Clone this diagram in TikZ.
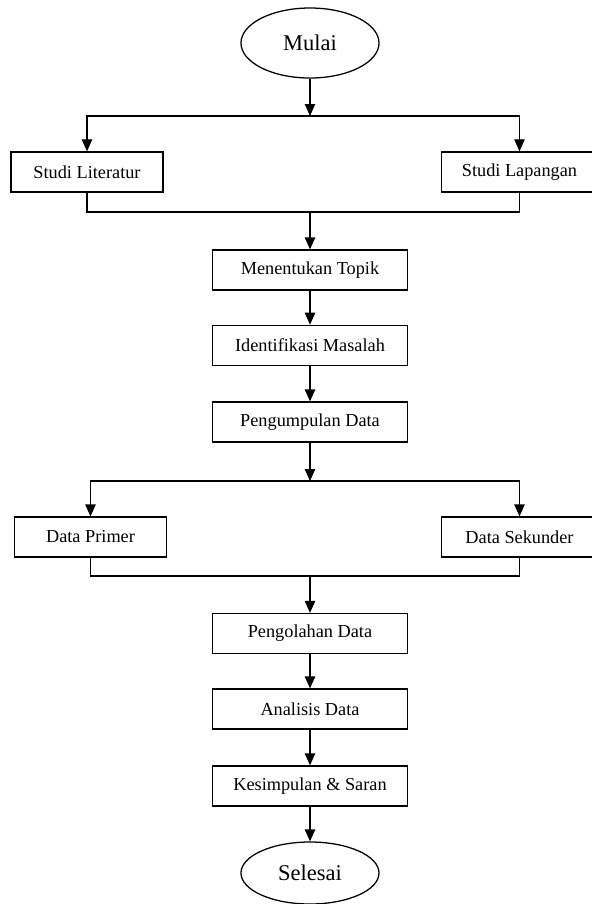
\documentclass[tikz,border=0pt]{standalone}
\usepackage{fontspec}
\setmainfont{Liberation Serif}
\usetikzlibrary{arrows.meta,positioning,shapes.geometric}

\begin{document}
\begin{tikzpicture}[
  x=0.025cm, y=-0.025cm,
  %===========================================================
  % Node styles
  %===========================================================
  terminal/.style={
    ellipse,
    draw=black,
    line width=0.9pt,
    fill=white,
    inner sep=0pt,
    minimum width=3.45cm,
    minimum height=1.75cm,
    font=\fontsize{16}{18}\selectfont
  },
  stepbox/.style={
    rectangle,
    draw=black,
    line width=0.9pt,
    fill=white,
    align=center,
    inner sep=2pt,
    minimum width=4.86cm,
    minimum height=1.0cm,
    font=\fontsize{13}{15}\selectfont
  },
  sidebox/.style={stepbox, minimum width=3.8cm},
  %===========================================================
  % Connectors
  %===========================================================
  flow/.style={
    -{Triangle[length=3mm,width=2.6mm]},
    draw=black,
    line width=0.9pt
  },
  joint/.style={
    draw=black,
    line width=0.9pt
  }
]
  \path[use as bounding box, fill=white] (0,0) rectangle (592,904);
  \clip (0,0) rectangle (592,904);

  %====================================================================
  % Start, then the two studies side by side
  %====================================================================
  \node[terminal] (mulai) at (310, 43) {Mulai};

  \coordinate (split1) at (310, 116);
  \coordinate (merge1) at (310, 212);

  \node[sidebox] (literatur) at ( 87, 172) {Studi Literatur};
  \node[sidebox, minimum width=3.9cm] (lapangan) at (519.5, 172) {Studi Lapangan};

  %====================================================================
  % Main column
  %====================================================================
  \node[stepbox] (topik)       at (310, 270)   {Menentukan Topik};
  \node[stepbox] (masalah)     at (310, 345.3) {Identifikasi Masalah};
  \node[stepbox] (pengumpulan) at (310, 422)   {Pengumpulan Data};

  \coordinate (split2) at (310, 481);
  \coordinate (merge2) at (310, 576);

  \node[sidebox] (primer)   at ( 90.5, 537) {Data Primer};
  \node[sidebox, minimum width=3.9cm] (sekunder) at (519.5, 537) {Data Sekunder};

  \node[stepbox] (pengolahan) at (310, 633.5) {Pengolahan Data};
  \node[stepbox] (analisis)   at (310, 709)   {Analisis Data};
  \node[stepbox] (kesimpulan) at (310, 786)   {Kesimpulan \& Saran};

  \node[terminal, minimum height=1.55cm] (selesai) at (310, 873) {Selesai};

  %====================================================================
  % Branch into the studies and join again
  %====================================================================
  \draw[flow]  (mulai) -- (split1);
  \draw[flow]  (split1) -| (literatur);
  \draw[flow]  (split1) -| (lapangan);
  \draw[joint] (literatur) |- (merge1) -| (lapangan);
  \draw[flow]  (merge1) -- (topik);

  \draw[flow] (topik)   -- (masalah);
  \draw[flow] (masalah) -- (pengumpulan);

  %====================================================================
  % Branch into the two kinds of data and join again
  %====================================================================
  \draw[flow]  (pengumpulan) -- (split2);
  \draw[flow]  (split2) -| (primer);
  \draw[flow]  (split2) -| (sekunder);
  \draw[joint] (primer) |- (merge2) -| (sekunder);
  \draw[flow]  (merge2) -- (pengolahan);

  \draw[flow] (pengolahan) -- (analisis);
  \draw[flow] (analisis)   -- (kesimpulan);
  \draw[flow] (kesimpulan) -- (selesai);

\end{tikzpicture}
\end{document}
